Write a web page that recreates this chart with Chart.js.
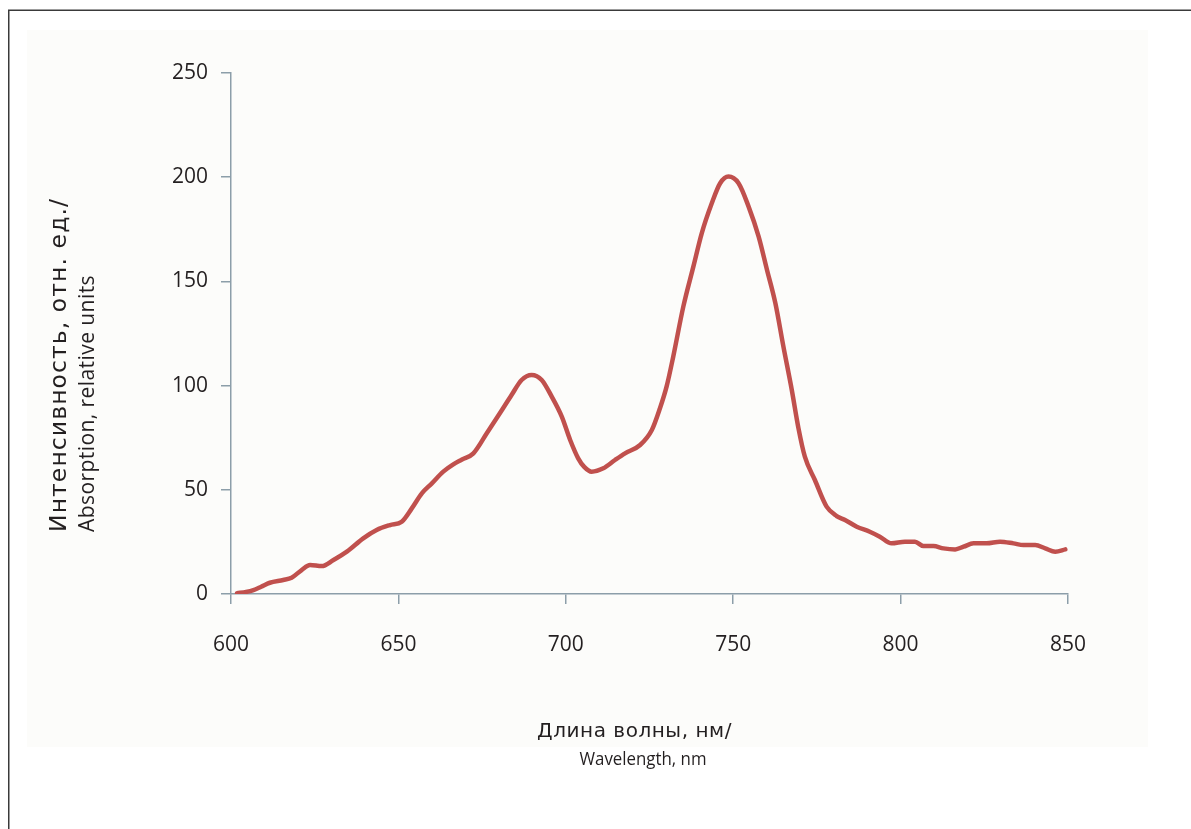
<!DOCTYPE html>
<html>
<head>
<meta charset="utf-8">
<script src="https://cdn.jsdelivr.net/npm/chart.js@4.4.1/dist/chart.umd.min.js"></script>
<style>
  html, body { margin: 0; padding: 0; background: #ffffff; }
  canvas { display: block; }
</style>
</head>
<body>
<canvas id="c" width="1191" height="829"></canvas>
<script>
// ---- data ----
const wavelength = [601.8, 604.5, 606.7, 609, 611.6, 615.6, 618.1, 621.1, 623.6, 627.1, 630.6, 634.6, 639.5, 643.5, 647.5, 651, 654, 657, 660, 663.4, 666.4, 669, 672.4, 676.4, 680.3, 683.8, 686.8, 689.8, 692.8, 695.8, 698.8, 701.3, 703.7, 705.5, 707.7, 711.2, 714.7, 717.7, 722.2, 725.7, 728.1, 730.1, 732.1, 735.1, 738.1, 740.6, 743.6, 746.1, 748.6, 751.6, 754.6, 757.6, 760.1, 762.6, 765, 767.5, 769.5, 771.4, 774.4, 777.9, 780.9, 783.4, 786.9, 790.8, 793.8, 797.3, 801.3, 804.3, 806.8, 809.8, 812.8, 816.3, 818.8, 821.8, 825.7, 829.7, 833.7, 836.7, 840.2, 843.2, 846.2, 849.2];
const intensity = [0.4, 1.0, 1.9, 3.5, 5.4, 6.7, 7.8, 11.5, 13.9, 13.4, 16.3, 20.3, 26.7, 30.7, 33.1, 34.7, 41.1, 48.3, 53.1, 58.7, 62.2, 64.5, 67.5, 77.1, 86.7, 95.5, 102.7, 105.1, 102.7, 94.7, 85.1, 73.9, 65.1, 61, 58.7, 60.3, 64.3, 67.5, 71.5, 78.7, 89, 99.5, 114, 137.9, 157.1, 173.1, 187.5, 197.1, 200.3, 197.1, 185.9, 171.5, 155.5, 139.5, 118.7, 97.9, 79.5, 65.9, 54.7, 41.9, 37.4, 35.5, 32.3, 29.9, 27.5, 24.3, 25.1, 25.1, 23, 23, 21.9, 21.4, 22.7, 24.3, 24.3, 25.1, 24.3, 23.5, 23.5, 21.9, 20.3, 21.4];
const xTicks = [600, 650, 700, 750, 800, 850];
const yTicks = [0, 50, 100, 150, 200, 250];
const xTitleLines = ["Длина волны, нм/", "Wavelength, nm"];
const yTitleLines = ["Интенсивность, отн. ед./", "Absorption, relative units"];

const points = wavelength.map((w, i) => ({ x: w, y: intensity[i] }));

const FONT = '"Open Sans", "Noto Sans", sans-serif';
const CYR_FONT = '"DejaVu Sans", "Open Sans", sans-serif';
const TEXT = '#231f20';
const AXIS = '#8c9ea9';

// draw one text line so that it spans a given length (gentle letter spacing / fit)
function spanText(ctx, text, font, x, y, span, rotate, align) {
  ctx.save();
  ctx.font = font;
  ctx.letterSpacing = '0px';
  const w0 = ctx.measureText(text).width;
  if (span > w0) ctx.letterSpacing = ((span - w0) / text.length).toFixed(2) + 'px';
  const w = ctx.measureText(text).width;
  const sx = span / w;
  ctx.translate(x, y);
  if (rotate) ctx.rotate(-Math.PI / 2);
  ctx.scale(sx, 1);
  ctx.textAlign = 'left';
  ctx.fillText(text, align === 'center' ? -w / 2 : 0, 0);
  ctx.restore();
}

const framePlugin = {
  id: 'frame',
  beforeDraw(chart) {
    const ctx = chart.ctx;
    ctx.save();
    ctx.fillStyle = '#ffffff';
    ctx.fillRect(0, 0, chart.width, chart.height);
    ctx.fillStyle = '#fcfcfa';
    ctx.fillRect(27, 30, 1121, 717);
    ctx.strokeStyle = '#3a3a3a';
    ctx.lineWidth = 1.5;
    ctx.beginPath();
    ctx.moveTo(8.75, chart.height);
    ctx.lineTo(8.75, 10.25);
    ctx.lineTo(chart.width, 10.25);
    ctx.stroke();
    ctx.restore();
  },
  afterDraw(chart) {
    const ctx = chart.ctx;
    ctx.save();
    ctx.fillStyle = TEXT;
    ctx.textBaseline = 'middle';
    // x title, centred lines
    spanText(ctx, xTitleLines[0], '20px ' + CYR_FONT, 634.5, 732, 195, false, 'center');
    spanText(ctx, xTitleLines[1], '17.5px ' + FONT, 643, 760, 127, false, 'center');
    // y title, rotated, both lines starting at the same bottom point
    spanText(ctx, yTitleLines[0], '23.5px ' + CYR_FONT, 60, 532, 334, true, 'left');
    spanText(ctx, yTitleLines[1], '21px ' + FONT, 88, 532, 257, true, 'left');
    ctx.restore();
  }
};

new Chart(document.getElementById('c'), {
  type: 'line',
  data: {
    datasets: [{
      data: points,
      borderColor: '#c0504d',
      borderWidth: 4.5,
      pointRadius: 0,
      fill: false,
      cubicInterpolationMode: 'monotone',
      borderCapStyle: 'round',
      borderJoinStyle: 'round'
    }]
  },
  options: {
    responsive: false,
    animation: false,
    events: [],
    layout: { padding: { left: 0, top: 73, right: 123, bottom: 0 } },
    plugins: { legend: { display: false }, tooltip: { enabled: false } },
    scales: {
      x: {
        type: 'linear',
        min: xTicks[0],
        max: xTicks[xTicks.length - 1],
        afterFit: s => { s.height = 829 - 594; },
        afterBuildTicks: s => { s.ticks = xTicks.map(v => ({ value: v })); },
        border: { display: true, color: AXIS, width: 1.5 },
        grid: { drawOnChartArea: false, drawTicks: true, tickLength: 10, color: AXIS, lineWidth: 1.5 },
        ticks: { color: TEXT, font: { family: FONT, size: 21 }, padding: 28, maxRotation: 0 }
      },
      y: {
        type: 'linear',
        min: yTicks[0],
        max: yTicks[yTicks.length - 1],
        afterFit: s => { s.width = 231; },
        afterBuildTicks: s => { s.ticks = yTicks.map(v => ({ value: v })); },
        border: { display: true, color: AXIS, width: 1.5 },
        grid: { drawOnChartArea: false, drawTicks: true, tickLength: 10, color: AXIS, lineWidth: 1.5 },
        ticks: { color: TEXT, font: { family: FONT, size: 21 }, padding: 13 }
      }
    }
  },
  plugins: [framePlugin]
});
</script>
</body>
</html>
